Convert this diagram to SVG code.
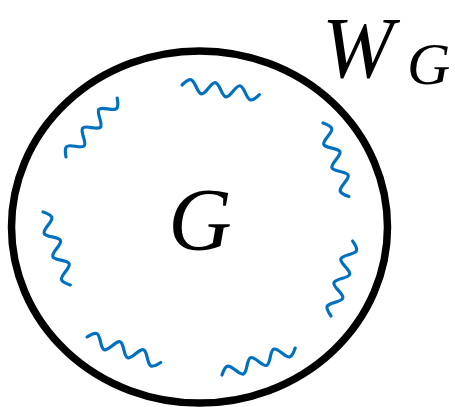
<svg xmlns="http://www.w3.org/2000/svg" xmlns:xlink="http://www.w3.org/1999/xlink" width="455" height="407" viewBox="0 0 455 407">
<style>
.w{fill:none;stroke:#0070C0;stroke-width:3.2;stroke-linecap:round;stroke-linejoin:round}
.t{font-family:"Liberation Serif","Times New Roman",serif;font-style:italic;fill:#000}
</style>
<defs>
<path id="wave" class="w" d="M0,0 c2.61,-3.3 5.1,-6.4 8,-6.4 c4.51,0 7.89,12.8 12.4,12.8 c4.51,0 7.89,-12.8 12.4,-12.8 c4.51,0 7.89,12.8 12.4,12.8 c4.51,0 7.89,-12.8 12.4,-12.8 c4.51,0 7.89,12.8 12.4,12.8 c2.9,0 5.39,-3.1 8,-6.4"/>
</defs>
<g id="boundary">
<ellipse cx="199.5" cy="227" rx="188" ry="176" fill="none" stroke="#000" stroke-width="7.5"/>
</g>
<g id="label-G">
<text class="t" x="200" y="249" font-size="88" text-anchor="middle">G</text>
</g>
<g id="label-WG">
<text class="t" x="322" y="77" font-size="86">W</text>
<text class="t" x="407" y="84" font-size="60">G</text>
</g>
<g id="waves">
<use xlink:href="#wave" transform="translate(182,85) rotate(7.1)"/>
<use xlink:href="#wave" transform="translate(66,157) rotate(-49)"/>
<use xlink:href="#wave" transform="translate(323,123) rotate(70.6)"/>
<use xlink:href="#wave" transform="translate(43,212) rotate(69.5)"/>
<use xlink:href="#wave" transform="translate(331,316) rotate(-73.9)"/>
<use xlink:href="#wave" transform="translate(87,337) rotate(19.1)"/>
<use xlink:href="#wave" transform="translate(222,375) rotate(-20.2)"/>
</g>
</svg>
